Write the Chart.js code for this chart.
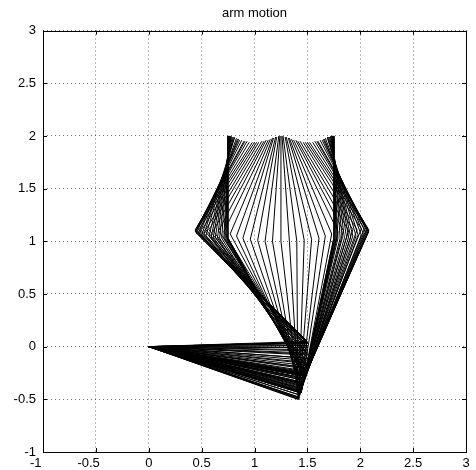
<!DOCTYPE html>
<html>
<head>
<meta charset="utf-8">
<title>arm motion</title>
<script src="https://cdn.jsdelivr.net/npm/chart.js@4.4.0/dist/chart.umd.min.js"></script>
<style>
  html, body { margin: 0; padding: 0; background: #fff; }
  canvas { display: block; }
</style>
</head>
<body>
<canvas id="armMotion" width="476" height="470"></canvas>
<script>
// one frame per index: base -> elbow -> wrist -> end point
const baseX = 0;
const baseY = 0;
const elbowX = [1.47,1.47,1.47,1.47,1.48,1.48,1.48,1.48,1.48,1.48,
                1.49,1.49,1.49,1.49,1.50,1.50,1.50,1.50,1.50,1.50,
                1.50,1.50,1.50,1.50,1.50,1.50,1.50,1.50,1.50,1.50,
                1.50,1.49,1.49,1.48,1.47,1.46,1.45,1.44,1.43,1.42,
                1.42,1.42,1.41,1.42,1.42,1.43,1.44,1.45,1.45,1.46,
                1.46,1.47,1.47,1.47,1.48,1.48,1.48,1.48,1.48,1.48,
                1.47,1.47,1.47,1.46,1.46,1.46,1.46,1.45,1.45,1.45,
                1.44,1.44,1.44,1.44,1.44,1.44,1.44,1.44,1.44,1.44,
                1.44];
const elbowY = [-0.28,-0.28,-0.28,-0.28,-0.27,-0.26,-0.25,-0.24,-0.23,-0.21,
                -0.20,-0.18,-0.16,-0.13,-0.11,-0.08,-0.06,-0.03,-0.01,0.01,
                0.03,0.04,0.04,0.05,0.04,0.03,0.01,-0.01,-0.04,-0.07,
                -0.11,-0.15,-0.20,-0.25,-0.31,-0.36,-0.40,-0.43,-0.46,-0.48,
                -0.49,-0.50,-0.50,-0.49,-0.48,-0.46,-0.43,-0.40,-0.37,-0.35,
                -0.34,-0.32,-0.30,-0.28,-0.27,-0.26,-0.27,-0.26,-0.27,-0.27,
                -0.28,-0.30,-0.30,-0.32,-0.34,-0.35,-0.36,-0.37,-0.38,-0.39,
                -0.40,-0.41,-0.42,-0.42,-0.43,-0.43,-0.43,-0.43,-0.44,-0.44,
                -0.44];
const wristX = [0.75,0.75,0.74,0.74,0.73,0.72,0.71,0.69,0.67,0.65,
                0.63,0.61,0.59,0.57,0.54,0.52,0.50,0.48,0.47,0.45,
                0.44,0.44,0.44,0.44,0.45,0.46,0.48,0.51,0.54,0.57,
                0.61,0.66,0.71,0.77,0.83,0.89,0.96,1.03,1.10,1.17,
                1.25,1.33,1.40,1.47,1.54,1.61,1.67,1.73,1.79,1.84,
                1.89,1.93,1.97,2.01,2.04,2.06,2.07,2.08,2.08,2.08,
                2.08,2.07,2.05,2.03,2.01,1.98,1.96,1.93,1.91,1.89,
                1.87,1.85,1.83,1.81,1.79,1.78,1.77,1.76,1.76,1.75,
                1.75];
const wristY = [1.03,1.03,1.03,1.03,1.03,1.03,1.03,1.03,1.03,1.03,
                1.04,1.04,1.04,1.05,1.05,1.06,1.06,1.07,1.08,1.08,
                1.09,1.10,1.10,1.11,1.11,1.12,1.12,1.12,1.11,1.11,
                1.10,1.10,1.09,1.07,1.05,1.03,1.02,1.01,1.00,1.00,
                1.00,1.00,1.00,1.01,1.02,1.03,1.05,1.07,1.09,1.10,
                1.10,1.11,1.11,1.12,1.12,1.12,1.11,1.11,1.10,1.10,
                1.09,1.08,1.08,1.07,1.06,1.06,1.05,1.05,1.04,1.04,
                1.04,1.03,1.03,1.03,1.03,1.03,1.03,1.03,1.03,1.03,
                1.03];
const endX = [0.75,0.75,0.75,0.75,0.75,0.76,0.76,0.76,0.77,0.77,
              0.78,0.78,0.79,0.80,0.81,0.81,0.83,0.84,0.85,0.86,
              0.88,0.90,0.91,0.93,0.95,0.98,1.00,1.02,1.04,1.07,
              1.09,1.11,1.13,1.15,1.17,1.18,1.20,1.21,1.23,1.24,
              1.25,1.26,1.27,1.29,1.30,1.32,1.33,1.35,1.37,1.39,
              1.41,1.43,1.46,1.48,1.50,1.52,1.55,1.57,1.59,1.60,
              1.62,1.64,1.65,1.66,1.67,1.69,1.69,1.70,1.71,1.72,
              1.72,1.73,1.73,1.74,1.74,1.74,1.75,1.75,1.75,1.75,
              1.75];
const endY = [2.00,2.00,2.00,2.00,2.00,2.00,2.00,2.00,2.00,2.00,
              2.00,1.99,1.99,1.99,1.99,1.98,1.98,1.97,1.97,1.96,
              1.96,1.95,1.95,1.95,1.94,1.94,1.94,1.94,1.94,1.95,
              1.95,1.96,1.96,1.97,1.98,1.98,1.99,1.99,2.00,2.00,
              2.00,2.00,2.00,1.99,1.99,1.98,1.98,1.97,1.96,1.96,
              1.95,1.95,1.94,1.94,1.94,1.94,1.94,1.95,1.95,1.95,
              1.96,1.96,1.97,1.97,1.98,1.98,1.99,1.99,1.99,1.99,
              2.00,2.00,2.00,2.00,2.00,2.00,2.00,2.00,2.00,2.00,
              2.00];

const tickValues = [-1, -0.5, 0, 0.5, 1, 1.5, 2, 2.5, 3];
// MATLAB puts the negative x labels a little to the left
const xTickLabels = ['-1    ', '-0.5    ', '0', '0.5', '1', '1.5', '2', '2.5', '3'];
const yTickLabels = ['-1', '-0.5', '0', '0.5', '1', '1.5', '2', '2.5', '3'];

Chart.defaults.font.family = "'Liberation Sans', Arial, Helvetica, sans-serif";
Chart.defaults.color = '#000';

const datasets = endX.map((_, i) => ({
  data: [
    { x: baseX, y: baseY },
    { x: elbowX[i], y: elbowY[i] },
    { x: wristX[i], y: wristY[i] },
    { x: endX[i], y: endY[i] }
  ],
  showLine: true,
  borderColor: '#000',
  borderWidth: 1,
  pointRadius: 0,
  fill: false,
  tension: 0
}));

// box round the axes with ticks pointing inwards
const axesBox = {
  id: 'axesBox',
  afterDatasetsDraw(chart) {
    const { ctx, chartArea: a, scales: { x, y } } = chart;
    ctx.save();
    ctx.strokeStyle = '#000';
    ctx.lineWidth = 1;
    ctx.beginPath();
    tickValues.forEach(v => {
      const px = Math.round(x.getPixelForValue(v)) + 0.5;
      ctx.moveTo(px, a.bottom); ctx.lineTo(px, a.bottom - 4);
      ctx.moveTo(px, a.top); ctx.lineTo(px, a.top + 4);
      const py = Math.round(y.getPixelForValue(v)) + 0.5;
      ctx.moveTo(a.left, py); ctx.lineTo(a.left + 4, py);
      ctx.moveTo(a.right, py); ctx.lineTo(a.right - 4, py);
    });
    ctx.stroke();
    ctx.strokeRect(Math.round(a.left) + 0.5, Math.round(a.top) + 0.5,
                   Math.round(a.right - a.left), Math.round(a.bottom - a.top));
    ctx.restore();
  }
};

const gridStyle = { color: 'rgba(0,0,0,0.55)', lineWidth: 1, drawTicks: false };

new Chart(document.getElementById('armMotion'), {
  type: 'scatter',
  data: { datasets },
  plugins: [axesBox],
  options: {
    responsive: false,
    animation: false,
    layout: { padding: { right: 10 } },
    plugins: {
      legend: { display: false },
      tooltip: { enabled: false },
      title: {
        display: true,
        text: 'arm motion',
        fullSize: false,
        color: '#000',
        font: { size: 13, weight: 'normal' },
        padding: { top: 6, bottom: 9 }
      }
    },
    scales: {
      x: {
        type: 'linear',
        min: -1,
        max: 3,
        grid: gridStyle,
        border: { display: false, dash: [1, 3] },
        afterBuildTicks: s => { s.ticks = tickValues.map(v => ({ value: v })); },
        afterFit: s => { s.height = 18; },
        ticks: { padding: 4, maxRotation: 0, font: { size: 13 }, callback: (v, i) => xTickLabels[i] }
      },
      y: {
        type: 'linear',
        min: -1,
        max: 3,
        grid: gridStyle,
        border: { display: false, dash: [1, 3] },
        afterBuildTicks: s => { s.ticks = tickValues.map(v => ({ value: v })); },
        afterFit: s => { s.width = 43; },
        ticks: { padding: 7, font: { size: 13 }, callback: (v, i) => yTickLabels[i] }
      }
    }
  }
});
</script>
</body>
</html>
